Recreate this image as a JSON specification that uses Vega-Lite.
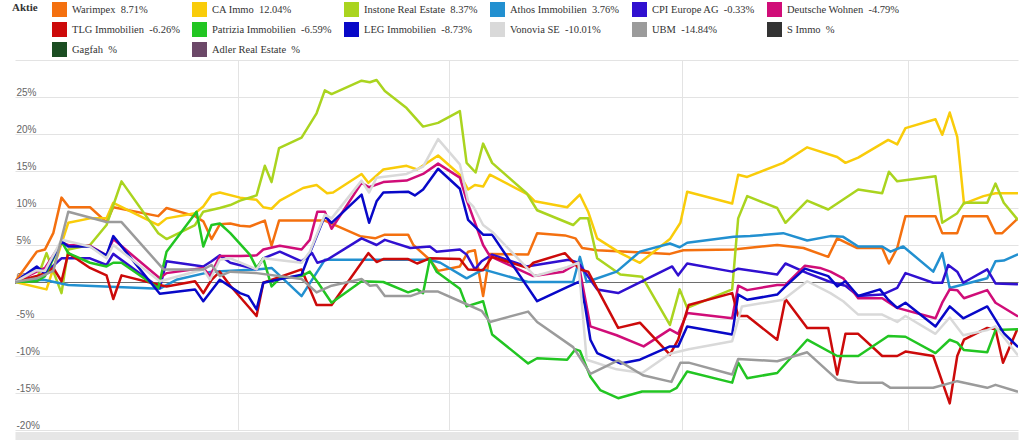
{
  "$schema": "https://vega.github.io/schema/vega-lite/v6.json",
  "width": 1003,
  "height": 370,
  "autosize": {"type": "none"},
  "padding": {"left": 15, "top": 60, "right": 6, "bottom": 10},
  "background": "white",
  "config": {"view": {"stroke": null}, "font": "Liberation Sans"},
  "datasets": {
    "namen": [
      {"k": "W", "aktie": "Warimpex\u00a0 8.71%"},
      {"k": "C", "aktie": "CA Immo\u00a0 12.04%"},
      {"k": "I", "aktie": "Instone Real Estate\u00a0 8.37%"},
      {"k": "A", "aktie": "Athos Immobilien\u00a0 3.76%"},
      {"k": "P", "aktie": "CPI Europe AG\u00a0 -0.33%"},
      {"k": "D", "aktie": "Deutsche Wohnen\u00a0 -4.79%"},
      {"k": "T", "aktie": "TLG Immobilien\u00a0 -6.26%"},
      {"k": "Z", "aktie": "Patrizia Immobilien\u00a0 -6.59%"},
      {"k": "L", "aktie": "LEG Immobilien\u00a0 -8.73%"},
      {"k": "V", "aktie": "Vonovia SE\u00a0 -10.01%"},
      {"k": "U", "aktie": "UBM\u00a0 -14.84%"}
    ]
  },
  "data": {"values": [
{"k":"W","tag":0,"wert":0},{"k":"W","tag":2.9,"wert":4.1},{"k":"W","tag":4.0,"wert":4.4},{"k":"W","tag":5.1,"wert":6.6},{"k":"W","tag":6.2,"wert":11.4},{"k":"W","tag":7.2,"wert":10.1},{"k":"W","tag":10.0,"wert":10.1},{"k":"W","tag":12.2,"wert":8.1},{"k":"W","tag":13.1,"wert":10.1},{"k":"W","tag":19.1,"wert":8.9},{"k":"W","tag":20.2,"wert":10.0},{"k":"W","tag":24.0,"wert":8.9},{"k":"W","tag":25.1,"wert":8.2},{"k":"W","tag":26.2,"wert":5.8},{"k":"W","tag":27.3,"wert":7.8},{"k":"W","tag":28.7,"wert":7.9},{"k":"W","tag":30.0,"wert":7.6},{"k":"W","tag":31.3,"wert":7.5},{"k":"W","tag":33.3,"wert":8.3},{"k":"W","tag":34.2,"wert":4.9},{"k":"W","tag":35.2,"wert":8.3},{"k":"W","tag":41.3,"wert":8.3},{"k":"W","tag":46.0,"wert":6.2},{"k":"W","tag":48.0,"wert":5.9},{"k":"W","tag":49.3,"wert":6.4},{"k":"W","tag":52.4,"wert":6.4},{"k":"W","tag":53.1,"wert":5.0},{"k":"W","tag":55.3,"wert":3.0},{"k":"W","tag":56.4,"wert":1.5},{"k":"W","tag":59.3,"wert":2.1},{"k":"W","tag":60.4,"wert":4.1},{"k":"W","tag":61.3,"wert":4.3},{"k":"W","tag":62.4,"wert":-1.9},{"k":"W","tag":63.3,"wert":3.8},{"k":"W","tag":68.4,"wert":3.7},{"k":"W","tag":69.6,"wert":6.6},{"k":"W","tag":73.3,"wert":6.3},{"k":"W","tag":74.7,"wert":5.9},{"k":"W","tag":75.6,"wert":4.6},{"k":"W","tag":77.6,"wert":4.3},{"k":"W","tag":83.6,"wert":4.0},{"k":"W","tag":87.3,"wert":3.8},{"k":"W","tag":89.1,"wert":4.3},{"k":"W","tag":95.8,"wert":4.4},{"k":"W","tag":101.6,"wert":5.0},{"k":"W","tag":105.1,"wert":4.6},{"k":"W","tag":108.4,"wert":3.4},{"k":"W","tag":109.6,"wert":5.9},{"k":"W","tag":112.2,"wert":4.6},{"k":"W","tag":115.6,"wert":4.6},{"k":"W","tag":116.5,"wert":2.5},{"k":"W","tag":117.6,"wert":4.6},{"k":"W","tag":118.7,"wert":8.9},{"k":"W","tag":122.7,"wert":8.9},{"k":"W","tag":123.6,"wert":6.6},{"k":"W","tag":125.6,"wert":6.6},{"k":"W","tag":126.4,"wert":8.9},{"k":"W","tag":129.6,"wert":8.9},{"k":"W","tag":130.7,"wert":6.6},{"k":"W","tag":131.6,"wert":6.6},{"k":"W","tag":133.6,"wert":8.5},
{"k":"C","tag":0,"wert":0},{"k":"C","tag":4.2,"wert":-1.0},{"k":"C","tag":7.1,"wert":8.0},{"k":"C","tag":10.0,"wert":8.6},{"k":"C","tag":12.2,"wert":8.6},{"k":"C","tag":13.1,"wert":10.7},{"k":"C","tag":19.1,"wert":7.7},{"k":"C","tag":20.2,"wert":8.6},{"k":"C","tag":24.0,"wert":9.3},{"k":"C","tag":25.1,"wert":10.2},{"k":"C","tag":26.2,"wert":11.8},{"k":"C","tag":27.3,"wert":12.1},{"k":"C","tag":30.0,"wert":11.4},{"k":"C","tag":32.2,"wert":11.1},{"k":"C","tag":33.1,"wert":10.1},{"k":"C","tag":34.2,"wert":9.9},{"k":"C","tag":35.3,"wert":11.0},{"k":"C","tag":38.4,"wert":12.7},{"k":"C","tag":40.2,"wert":13.1},{"k":"C","tag":41.6,"wert":12.0},{"k":"C","tag":42.4,"wert":12.1},{"k":"C","tag":46.2,"wert":14.6},{"k":"C","tag":47.1,"wert":13.4},{"k":"C","tag":49.1,"wert":15.2},{"k":"C","tag":52.2,"wert":15.7},{"k":"C","tag":53.6,"wert":15.2},{"k":"C","tag":56.4,"wert":17.1},{"k":"C","tag":59.3,"wert":14.5},{"k":"C","tag":60.4,"wert":12.5},{"k":"C","tag":61.3,"wert":13.1},{"k":"C","tag":62.4,"wert":12.9},{"k":"C","tag":63.3,"wert":14.5},{"k":"C","tag":68.4,"wert":11.8},{"k":"C","tag":69.3,"wert":10.9},{"k":"C","tag":73.6,"wert":10.1},{"k":"C","tag":75.3,"wert":11.8},{"k":"C","tag":76.4,"wert":9.5},{"k":"C","tag":77.6,"wert":5.9},{"k":"C","tag":80.7,"wert":3.9},{"k":"C","tag":83.3,"wert":2.6},{"k":"C","tag":87.3,"wert":5.8},{"k":"C","tag":88.7,"wert":8.0},{"k":"C","tag":89.6,"wert":12.2},{"k":"C","tag":95.6,"wert":10.6},{"k":"C","tag":96.4,"wert":14.5},{"k":"C","tag":97.6,"wert":14.2},{"k":"C","tag":102.4,"wert":16.1},{"k":"C","tag":105.6,"wert":18.2},{"k":"C","tag":109.6,"wert":16.9},{"k":"C","tag":110.7,"wert":16.1},{"k":"C","tag":112.4,"wert":16.8},{"k":"C","tag":116.4,"wert":19.2},{"k":"C","tag":117.6,"wert":18.6},{"k":"C","tag":118.7,"wert":20.8},{"k":"C","tag":122.7,"wert":22.0},{"k":"C","tag":123.6,"wert":19.9},{"k":"C","tag":124.6,"wert":22.9},{"k":"C","tag":125.6,"wert":19.6},{"k":"C","tag":126.5,"wert":10.6},{"k":"C","tag":129.1,"wert":11.6},{"k":"C","tag":130.7,"wert":12.0},{"k":"C","tag":133.6,"wert":12.0},
{"k":"I","tag":0,"wert":0},{"k":"I","tag":2.9,"wert":0.3},{"k":"I","tag":4.2,"wert":3.9},{"k":"I","tag":6.2,"wert":-1.5},{"k":"I","tag":7.1,"wert":4.4},{"k":"I","tag":10.0,"wert":5.0},{"k":"I","tag":12.2,"wert":7.7},{"k":"I","tag":14.2,"wert":13.6},{"k":"I","tag":19.1,"wert":6.6},{"k":"I","tag":20.2,"wert":5.8},{"k":"I","tag":24.0,"wert":7.7},{"k":"I","tag":25.1,"wert":9.5},{"k":"I","tag":27.3,"wert":10.0},{"k":"I","tag":28.7,"wert":10.4},{"k":"I","tag":30.0,"wert":11.0},{"k":"I","tag":32.2,"wert":11.7},{"k":"I","tag":33.3,"wert":15.7},{"k":"I","tag":34.2,"wert":13.5},{"k":"I","tag":35.2,"wert":18.1},{"k":"I","tag":38.2,"wert":19.5},{"k":"I","tag":40.2,"wert":22.8},{"k":"I","tag":41.3,"wert":25.9},{"k":"I","tag":42.2,"wert":25.4},{"k":"I","tag":46.2,"wert":27.2},{"k":"I","tag":47.3,"wert":27.0},{"k":"I","tag":48.2,"wert":27.3},{"k":"I","tag":49.3,"wert":25.8},{"k":"I","tag":52.2,"wert":23.5},{"k":"I","tag":54.4,"wert":21.0},{"k":"I","tag":56.4,"wert":21.5},{"k":"I","tag":59.3,"wert":23.1},{"k":"I","tag":60.2,"wert":16.1},{"k":"I","tag":61.4,"wert":14.8},{"k":"I","tag":62.4,"wert":18.7},{"k":"I","tag":63.6,"wert":16.1},{"k":"I","tag":68.2,"wert":12.0},{"k":"I","tag":69.6,"wert":9.7},{"k":"I","tag":74.4,"wert":7.7},{"k":"I","tag":75.3,"wert":8.6},{"k":"I","tag":76.4,"wert":8.6},{"k":"I","tag":77.6,"wert":3.2},{"k":"I","tag":80.7,"wert":1.0},{"k":"I","tag":83.6,"wert":0.7},{"k":"I","tag":87.3,"wert":-5.8},{"k":"I","tag":88.6,"wert":-1.0},{"k":"I","tag":89.6,"wert":-3.5},{"k":"I","tag":95.6,"wert":-1.0},{"k":"I","tag":96.4,"wert":8.6},{"k":"I","tag":97.6,"wert":11.6},{"k":"I","tag":101.6,"wert":10.0},{"k":"I","tag":102.7,"wert":8.0},{"k":"I","tag":105.6,"wert":11.0},{"k":"I","tag":108.4,"wert":9.8},{"k":"I","tag":112.4,"wert":12.5},{"k":"I","tag":115.6,"wert":12.0},{"k":"I","tag":116.5,"wert":14.9},{"k":"I","tag":117.6,"wert":13.6},{"k":"I","tag":122.7,"wert":14.3},{"k":"I","tag":123.6,"wert":8.0},{"k":"I","tag":125.6,"wert":9.3},{"k":"I","tag":126.5,"wert":10.7},{"k":"I","tag":129.6,"wert":10.7},{"k":"I","tag":130.7,"wert":13.3},{"k":"I","tag":131.8,"wert":10.7},{"k":"I","tag":133.6,"wert":8.5},
{"k":"A","tag":0,"wert":0},{"k":"A","tag":3.8,"wert":0.3},{"k":"A","tag":7.1,"wert":-0.4},{"k":"A","tag":19.3,"wert":-0.9},{"k":"A","tag":21.5,"wert":0.3},{"k":"A","tag":26.2,"wert":1.4},{"k":"A","tag":32.2,"wert":1.7},{"k":"A","tag":34.2,"wert":1.9},{"k":"A","tag":38.2,"wert":-1.9},{"k":"A","tag":41.3,"wert":3.0},{"k":"A","tag":55.3,"wert":3.0},{"k":"A","tag":56.7,"wert":2.6},{"k":"A","tag":60.2,"wert":0.5},{"k":"A","tag":62.4,"wert":1.7},{"k":"A","tag":68.4,"wert":0.0},{"k":"A","tag":74.4,"wert":0.0},{"k":"A","tag":75.3,"wert":3.4},{"k":"A","tag":76.2,"wert":0.0},{"k":"A","tag":80.2,"wert":1.4},{"k":"A","tag":83.3,"wert":4.1},{"k":"A","tag":87.3,"wert":5.2},{"k":"A","tag":88.6,"wert":4.7},{"k":"A","tag":89.6,"wert":5.3},{"k":"A","tag":95.8,"wert":6.1},{"k":"A","tag":98.0,"wert":6.2},{"k":"A","tag":102.4,"wert":6.6},{"k":"A","tag":105.6,"wert":5.6},{"k":"A","tag":108.7,"wert":6.2},{"k":"A","tag":110.4,"wert":6.1},{"k":"A","tag":112.4,"wert":4.8},{"k":"A","tag":115.6,"wert":4.8},{"k":"A","tag":116.7,"wert":4.1},{"k":"A","tag":118.4,"wert":4.8},{"k":"A","tag":122.4,"wert":1.4},{"k":"A","tag":123.6,"wert":3.9},{"k":"A","tag":124.6,"wert":-0.8},{"k":"A","tag":129.6,"wert":0.5},{"k":"A","tag":130.7,"wert":2.8},{"k":"A","tag":131.8,"wert":2.9},{"k":"A","tag":133.6,"wert":3.7},
{"k":"P","tag":0,"wert":0},{"k":"P","tag":2.9,"wert":1.9},{"k":"P","tag":4.0,"wert":1.2},{"k":"P","tag":6.2,"wert":3.2},{"k":"P","tag":10.0,"wert":3.2},{"k":"P","tag":12.2,"wert":2.3},{"k":"P","tag":13.1,"wert":3.8},{"k":"P","tag":19.3,"wert":-0.8},{"k":"P","tag":20.2,"wert":2.8},{"k":"P","tag":25.1,"wert":2.1},{"k":"P","tag":26.2,"wert":2.8},{"k":"P","tag":27.3,"wert":3.6},{"k":"P","tag":28.7,"wert":2.6},{"k":"P","tag":32.2,"wert":1.7},{"k":"P","tag":33.1,"wert":3.2},{"k":"P","tag":35.3,"wert":4.1},{"k":"P","tag":38.2,"wert":2.8},{"k":"P","tag":39.6,"wert":3.9},{"k":"P","tag":40.3,"wert":2.6},{"k":"P","tag":41.6,"wert":3.0},{"k":"P","tag":46.2,"wert":5.9},{"k":"P","tag":48.2,"wert":5.0},{"k":"P","tag":49.3,"wert":5.7},{"k":"P","tag":52.7,"wert":4.6},{"k":"P","tag":55.3,"wert":4.8},{"k":"P","tag":56.2,"wert":4.1},{"k":"P","tag":59.3,"wert":4.4},{"k":"P","tag":60.2,"wert":3.7},{"k":"P","tag":61.3,"wert":1.7},{"k":"P","tag":62.2,"wert":2.8},{"k":"P","tag":63.6,"wert":3.7},{"k":"P","tag":68.2,"wert":2.1},{"k":"P","tag":73.8,"wert":3.0},{"k":"P","tag":75.1,"wert":2.6},{"k":"P","tag":77.6,"wert":-1.0},{"k":"P","tag":80.4,"wert":-1.5},{"k":"P","tag":87.6,"wert":2.1},{"k":"P","tag":88.4,"wert":0.9},{"k":"P","tag":89.6,"wert":2.5},{"k":"P","tag":95.6,"wert":1.4},{"k":"P","tag":96.4,"wert":1.8},{"k":"P","tag":101.6,"wert":1.0},{"k":"P","tag":102.7,"wert":2.5},{"k":"P","tag":105.6,"wert":1.2},{"k":"P","tag":108.7,"wert":0.0},{"k":"P","tag":110.7,"wert":-0.5},{"k":"P","tag":112.4,"wert":-1.9},{"k":"P","tag":115.6,"wert":-1.7},{"k":"P","tag":117.6,"wert":-0.8},{"k":"P","tag":118.7,"wert":1.2},{"k":"P","tag":122.4,"wert":-0.1},{"k":"P","tag":123.6,"wert":-0.1},{"k":"P","tag":124.4,"wert":2.3},{"k":"P","tag":125.6,"wert":1.4},{"k":"P","tag":126.4,"wert":-0.1},{"k":"P","tag":129.6,"wert":1.7},{"k":"P","tag":130.7,"wert":-0.2},{"k":"P","tag":133.6,"wert":-0.3},
{"k":"D","tag":0,"wert":0},{"k":"D","tag":2.9,"wert":1.4},{"k":"D","tag":4.0,"wert":1.9},{"k":"D","tag":6.2,"wert":5.3},{"k":"D","tag":7.1,"wert":5.0},{"k":"D","tag":10.0,"wert":4.9},{"k":"D","tag":12.2,"wert":3.6},{"k":"D","tag":13.1,"wert":5.8},{"k":"D","tag":19.3,"wert":0.5},{"k":"D","tag":20.2,"wert":1.2},{"k":"D","tag":25.1,"wert":1.9},{"k":"D","tag":26.0,"wert":0.8},{"k":"D","tag":27.3,"wert":3.5},{"k":"D","tag":30.0,"wert":3.5},{"k":"D","tag":32.2,"wert":3.6},{"k":"D","tag":33.1,"wert":4.4},{"k":"D","tag":35.3,"wert":4.9},{"k":"D","tag":38.2,"wert":4.4},{"k":"D","tag":39.3,"wert":5.7},{"k":"D","tag":40.3,"wert":9.5},{"k":"D","tag":41.3,"wert":9.5},{"k":"D","tag":42.2,"wert":7.2},{"k":"D","tag":46.2,"wert":13.4},{"k":"D","tag":47.2,"wert":12.8},{"k":"D","tag":49.1,"wert":13.5},{"k":"D","tag":52.2,"wert":13.7},{"k":"D","tag":54.4,"wert":14.6},{"k":"D","tag":56.4,"wert":16.0},{"k":"D","tag":59.3,"wert":14.1},{"k":"D","tag":60.2,"wert":11.1},{"k":"D","tag":62.4,"wert":5.0},{"k":"D","tag":63.3,"wert":3.5},{"k":"D","tag":68.2,"wert":1.2},{"k":"D","tag":69.1,"wert":0.8},{"k":"D","tag":73.1,"wert":1.4},{"k":"D","tag":75.1,"wert":2.6},{"k":"D","tag":76.7,"wert":-6.0},{"k":"D","tag":80.2,"wert":-7.2},{"k":"D","tag":83.8,"wert":-8.7},{"k":"D","tag":87.3,"wert":-6.4},{"k":"D","tag":88.4,"wert":-7.0},{"k":"D","tag":89.6,"wert":-4.2},{"k":"D","tag":95.6,"wert":-4.9},{"k":"D","tag":96.4,"wert":-0.5},{"k":"D","tag":97.6,"wert":-1.1},{"k":"D","tag":101.6,"wert":-0.4},{"k":"D","tag":102.7,"wert":-0.4},{"k":"D","tag":105.3,"wert":2.2},{"k":"D","tag":107.3,"wert":1.9},{"k":"D","tag":108.7,"wert":1.4},{"k":"D","tag":110.4,"wert":0.5},{"k":"D","tag":112.4,"wert":-2.2},{"k":"D","tag":115.6,"wert":-2.2},{"k":"D","tag":117.6,"wert":-3.5},{"k":"D","tag":122.7,"wert":-4.9},{"k":"D","tag":123.6,"wert":-2.8},{"k":"D","tag":124.6,"wert":-1.0},{"k":"D","tag":125.6,"wert":-1.1},{"k":"D","tag":126.5,"wert":-2.2},{"k":"D","tag":129.6,"wert":-1.1},{"k":"D","tag":130.7,"wert":-2.8},{"k":"D","tag":133.6,"wert":-4.6},
{"k":"T","tag":0,"wert":0},{"k":"T","tag":2.9,"wert":0.8},{"k":"T","tag":4.0,"wert":1.2},{"k":"T","tag":5.1,"wert":1.9},{"k":"T","tag":6.2,"wert":0.1},{"k":"T","tag":7.1,"wert":3.9},{"k":"T","tag":10.0,"wert":1.9},{"k":"T","tag":12.2,"wert":0.9},{"k":"T","tag":13.1,"wert":-2.3},{"k":"T","tag":14.2,"wert":0.9},{"k":"T","tag":19.3,"wert":-0.4},{"k":"T","tag":20.2,"wert":-0.6},{"k":"T","tag":24.0,"wert":0.1},{"k":"T","tag":25.1,"wert":-1.5},{"k":"T","tag":26.2,"wert":0.3},{"k":"T","tag":27.3,"wert":1.4},{"k":"T","tag":28.7,"wert":-0.5},{"k":"T","tag":32.2,"wert":-4.6},{"k":"T","tag":33.1,"wert":-0.1},{"k":"T","tag":38.2,"wert":1.7},{"k":"T","tag":40.2,"wert":-3.1},{"k":"T","tag":42.2,"wert":-3.1},{"k":"T","tag":47.1,"wert":3.9},{"k":"T","tag":48.2,"wert":2.7},{"k":"T","tag":49.1,"wert":3.1},{"k":"T","tag":52.4,"wert":3.1},{"k":"T","tag":53.6,"wert":2.5},{"k":"T","tag":55.3,"wert":3.2},{"k":"T","tag":59.3,"wert":3.1},{"k":"T","tag":60.4,"wert":1.7},{"k":"T","tag":62.4,"wert":1.6},{"k":"T","tag":63.6,"wert":3.4},{"k":"T","tag":68.4,"wert":1.9},{"k":"T","tag":69.1,"wert":2.6},{"k":"T","tag":73.3,"wert":3.9},{"k":"T","tag":75.3,"wert":1.7},{"k":"T","tag":76.4,"wert":1.4},{"k":"T","tag":80.4,"wert":-6.2},{"k":"T","tag":83.3,"wert":-5.5},{"k":"T","tag":87.3,"wert":-9.8},{"k":"T","tag":88.4,"wert":-7.8},{"k":"T","tag":89.8,"wert":-3.1},{"k":"T","tag":95.6,"wert":-1.5},{"k":"T","tag":96.4,"wert":-4.6},{"k":"T","tag":97.6,"wert":-4.6},{"k":"T","tag":101.6,"wert":-7.8},{"k":"T","tag":102.7,"wert":-2.3},{"k":"T","tag":105.6,"wert":-6.2},{"k":"T","tag":108.4,"wert":-6.2},{"k":"T","tag":109.6,"wert":-12.5},{"k":"T","tag":110.7,"wert":-7.0},{"k":"T","tag":112.4,"wert":-7.0},{"k":"T","tag":115.6,"wert":-10.0},{"k":"T","tag":117.6,"wert":-10.0},{"k":"T","tag":118.7,"wert":-9.4},{"k":"T","tag":122.4,"wert":-10.0},{"k":"T","tag":124.6,"wert":-16.4},{"k":"T","tag":125.6,"wert":-10.0},{"k":"T","tag":126.5,"wert":-7.8},{"k":"T","tag":129.6,"wert":-6.2},{"k":"T","tag":130.7,"wert":-6.4},{"k":"T","tag":131.7,"wert":-10.9},{"k":"T","tag":133.6,"wert":-6.4},
{"k":"Z","tag":0,"wert":0},{"k":"Z","tag":2.9,"wert":0.1},{"k":"Z","tag":4.0,"wert":0.8},{"k":"Z","tag":6.2,"wert":5.5},{"k":"Z","tag":7.1,"wert":3.9},{"k":"Z","tag":10.0,"wert":2.6},{"k":"Z","tag":12.2,"wert":2.1},{"k":"Z","tag":13.1,"wert":2.6},{"k":"Z","tag":14.2,"wert":2.6},{"k":"Z","tag":19.1,"wert":-0.8},{"k":"Z","tag":20.2,"wert":4.1},{"k":"Z","tag":24.2,"wert":9.5},{"k":"Z","tag":25.1,"wert":4.8},{"k":"Z","tag":26.2,"wert":7.7},{"k":"Z","tag":27.3,"wert":7.9},{"k":"Z","tag":28.7,"wert":6.6},{"k":"Z","tag":31.3,"wert":3.7},{"k":"Z","tag":32.2,"wert":1.9},{"k":"Z","tag":33.1,"wert":3.2},{"k":"Z","tag":34.2,"wert":-0.6},{"k":"Z","tag":35.3,"wert":0.5},{"k":"Z","tag":38.2,"wert":0.8},{"k":"Z","tag":39.3,"wert":1.4},{"k":"Z","tag":40.4,"wert":-0.1},{"k":"Z","tag":42.2,"wert":-2.8},{"k":"Z","tag":46.2,"wert":0.1},{"k":"Z","tag":49.1,"wert":0.0},{"k":"Z","tag":52.4,"wert":-1.4},{"k":"Z","tag":53.6,"wert":-1.0},{"k":"Z","tag":54.4,"wert":-1.5},{"k":"Z","tag":55.3,"wert":3.1},{"k":"Z","tag":56.2,"wert":1.4},{"k":"Z","tag":59.3,"wert":-0.9},{"k":"Z","tag":60.2,"wert":-3.3},{"k":"Z","tag":62.4,"wert":-2.6},{"k":"Z","tag":63.6,"wert":-7.1},{"k":"Z","tag":68.4,"wert":-11.0},{"k":"Z","tag":69.6,"wert":-10.3},{"k":"Z","tag":73.6,"wert":-10.5},{"k":"Z","tag":74.7,"wert":-9.1},{"k":"Z","tag":75.3,"wert":-9.3},{"k":"Z","tag":76.7,"wert":-12.8},{"k":"Z","tag":78.0,"wert":-14.6},{"k":"Z","tag":80.4,"wert":-15.7},{"k":"Z","tag":83.6,"wert":-14.8},{"k":"Z","tag":87.3,"wert":-14.8},{"k":"Z","tag":88.2,"wert":-14.3},{"k":"Z","tag":89.6,"wert":-12.1},{"k":"Z","tag":95.6,"wert":-13.6},{"k":"Z","tag":96.4,"wert":-10.9},{"k":"Z","tag":97.6,"wert":-13.0},{"k":"Z","tag":101.6,"wert":-12.3},{"k":"Z","tag":105.6,"wert":-7.8},{"k":"Z","tag":109.6,"wert":-10.0},{"k":"Z","tag":112.4,"wert":-10.0},{"k":"Z","tag":116.4,"wert":-7.3},{"k":"Z","tag":118.7,"wert":-7.4},{"k":"Z","tag":122.7,"wert":-9.6},{"k":"Z","tag":124.6,"wert":-7.8},{"k":"Z","tag":125.6,"wert":-8.2},{"k":"Z","tag":126.5,"wert":-9.2},{"k":"Z","tag":129.6,"wert":-9.5},{"k":"Z","tag":130.7,"wert":-6.5},{"k":"Z","tag":133.6,"wert":-6.4},
{"k":"L","tag":0,"wert":0},{"k":"L","tag":2.9,"wert":2.1},{"k":"L","tag":4.0,"wert":1.2},{"k":"L","tag":6.2,"wert":5.5},{"k":"L","tag":7.1,"wert":4.8},{"k":"L","tag":10.0,"wert":4.8},{"k":"L","tag":12.2,"wert":3.6},{"k":"L","tag":13.1,"wert":6.2},{"k":"L","tag":19.3,"wert":-1.6},{"k":"L","tag":24.0,"wert":-1.0},{"k":"L","tag":25.1,"wert":-2.6},{"k":"L","tag":27.3,"wert":0.3},{"k":"L","tag":30.0,"wert":-1.5},{"k":"L","tag":31.1,"wert":-1.9},{"k":"L","tag":32.2,"wert":-3.7},{"k":"L","tag":33.1,"wert":-0.1},{"k":"L","tag":38.2,"wert":1.0},{"k":"L","tag":39.3,"wert":3.9},{"k":"L","tag":41.3,"wert":8.9},{"k":"L","tag":42.2,"wert":8.0},{"k":"L","tag":46.2,"wert":11.8},{"k":"L","tag":47.2,"wert":8.0},{"k":"L","tag":48.2,"wert":10.9},{"k":"L","tag":49.1,"wert":12.1},{"k":"L","tag":52.4,"wert":12.2},{"k":"L","tag":53.3,"wert":11.7},{"k":"L","tag":54.4,"wert":12.5},{"k":"L","tag":56.4,"wert":15.3},{"k":"L","tag":59.3,"wert":12.6},{"k":"L","tag":60.4,"wert":8.4},{"k":"L","tag":62.4,"wert":6.4},{"k":"L","tag":63.6,"wert":6.4},{"k":"L","tag":69.6,"wert":-2.6},{"k":"L","tag":73.6,"wert":-0.7},{"k":"L","tag":75.3,"wert":0.1},{"k":"L","tag":76.0,"wert":-3.3},{"k":"L","tag":76.7,"wert":-7.8},{"k":"L","tag":77.6,"wert":-9.6},{"k":"L","tag":80.7,"wert":-11.0},{"k":"L","tag":83.3,"wert":-10.5},{"k":"L","tag":87.3,"wert":-8.7},{"k":"L","tag":88.4,"wert":-8.7},{"k":"L","tag":89.6,"wert":-6.0},{"k":"L","tag":95.6,"wert":-7.1},{"k":"L","tag":96.4,"wert":-1.7},{"k":"L","tag":97.6,"wert":-2.4},{"k":"L","tag":101.6,"wert":-1.7},{"k":"L","tag":102.7,"wert":-0.6},{"k":"L","tag":105.3,"wert":1.8},{"k":"L","tag":108.4,"wert":0.8},{"k":"L","tag":109.6,"wert":-0.6},{"k":"L","tag":110.7,"wert":0.1},{"k":"L","tag":112.4,"wert":-1.9},{"k":"L","tag":115.3,"wert":-1.0},{"k":"L","tag":116.4,"wert":-2.4},{"k":"L","tag":117.6,"wert":-3.5},{"k":"L","tag":118.7,"wert":-2.8},{"k":"L","tag":122.7,"wert":-6.0},{"k":"L","tag":124.6,"wert":-3.3},{"k":"L","tag":126.4,"wert":-4.9},{"k":"L","tag":129.6,"wert":-3.3},{"k":"L","tag":131.8,"wert":-6.9},{"k":"L","tag":133.6,"wert":-8.7},
{"k":"V","tag":0,"wert":0},{"k":"V","tag":2.9,"wert":1.6},{"k":"V","tag":4.0,"wert":1.5},{"k":"V","tag":6.2,"wert":5.7},{"k":"V","tag":10.0,"wert":4.8},{"k":"V","tag":12.2,"wert":3.2},{"k":"V","tag":13.1,"wert":5.0},{"k":"V","tag":19.3,"wert":0.1},{"k":"V","tag":25.1,"wert":1.7},{"k":"V","tag":26.0,"wert":0.3},{"k":"V","tag":27.3,"wert":3.0},{"k":"V","tag":28.7,"wert":3.2},{"k":"V","tag":32.2,"wert":1.7},{"k":"V","tag":33.1,"wert":3.2},{"k":"V","tag":38.2,"wert":2.6},{"k":"V","tag":39.3,"wert":4.1},{"k":"V","tag":41.3,"wert":9.1},{"k":"V","tag":42.2,"wert":8.6},{"k":"V","tag":46.2,"wert":13.7},{"k":"V","tag":47.2,"wert":12.1},{"k":"V","tag":48.2,"wert":14.1},{"k":"V","tag":52.2,"wert":14.6},{"k":"V","tag":54.4,"wert":15.6},{"k":"V","tag":56.4,"wert":19.3},{"k":"V","tag":59.3,"wert":15.9},{"k":"V","tag":60.4,"wert":10.9},{"k":"V","tag":61.1,"wert":10.2},{"k":"V","tag":62.4,"wert":7.7},{"k":"V","tag":63.6,"wert":6.8},{"k":"V","tag":69.3,"wert":0.8},{"k":"V","tag":73.6,"wert":2.0},{"k":"V","tag":75.1,"wert":2.6},{"k":"V","tag":76.2,"wert":-10.5},{"k":"V","tag":80.2,"wert":-11.8},{"k":"V","tag":83.6,"wert":-12.3},{"k":"V","tag":87.3,"wert":-9.7},{"k":"V","tag":89.8,"wert":-9.1},{"k":"V","tag":95.6,"wert":-8.0},{"k":"V","tag":96.9,"wert":-3.3},{"k":"V","tag":102.4,"wert":-2.4},{"k":"V","tag":105.6,"wert":0.1},{"k":"V","tag":108.7,"wert":-1.5},{"k":"V","tag":110.4,"wert":-2.6},{"k":"V","tag":112.4,"wert":-4.4},{"k":"V","tag":115.6,"wert":-4.4},{"k":"V","tag":117.6,"wert":-5.4},{"k":"V","tag":118.7,"wert":-4.6},{"k":"V","tag":122.7,"wert":-7.0},{"k":"V","tag":124.6,"wert":-4.8},{"k":"V","tag":126.4,"wert":-7.2},{"k":"V","tag":129.6,"wert":-6.5},{"k":"V","tag":130.7,"wert":-6.0},{"k":"V","tag":133.6,"wert":-9.8},
{"k":"U","tag":0,"wert":0},{"k":"U","tag":2.9,"wert":0.5},{"k":"U","tag":4.0,"wert":1.0},{"k":"U","tag":5.1,"wert":1.5},{"k":"U","tag":7.1,"wert":9.5},{"k":"U","tag":12.2,"wert":8.1},{"k":"U","tag":14.2,"wert":8.1},{"k":"U","tag":19.8,"wert":1.7},{"k":"U","tag":25.1,"wert":1.7},{"k":"U","tag":26.2,"wert":2.3},{"k":"U","tag":27.3,"wert":0.8},{"k":"U","tag":28.7,"wert":1.4},{"k":"U","tag":32.2,"wert":1.2},{"k":"U","tag":38.2,"wert":0.4},{"k":"U","tag":40.2,"wert":-1.4},{"k":"U","tag":42.2,"wert":-0.5},{"k":"U","tag":46.2,"wert":0.4},{"k":"U","tag":47.3,"wert":-0.5},{"k":"U","tag":48.2,"wert":-0.4},{"k":"U","tag":49.3,"wert":-1.9},{"k":"U","tag":52.7,"wert":-1.9},{"k":"U","tag":54.4,"wert":-1.3},{"k":"U","tag":56.4,"wert":-1.3},{"k":"U","tag":59.3,"wert":-2.6},{"k":"U","tag":62.2,"wert":-3.9},{"k":"U","tag":63.3,"wert":-5.4},{"k":"U","tag":68.4,"wert":-4.0},{"k":"U","tag":69.6,"wert":-5.4},{"k":"U","tag":74.4,"wert":-8.8},{"k":"U","tag":76.7,"wert":-12.4},{"k":"U","tag":80.4,"wert":-10.6},{"k":"U","tag":83.7,"wert":-12.6},{"k":"U","tag":87.5,"wert":-13.5},{"k":"U","tag":88.7,"wert":-10.9},{"k":"U","tag":89.8,"wert":-10.9},{"k":"U","tag":95.6,"wert":-12.5},{"k":"U","tag":96.4,"wert":-10.4},{"k":"U","tag":101.6,"wert":-10.7},{"k":"U","tag":105.6,"wert":-9.5},{"k":"U","tag":109.6,"wert":-13.2},{"k":"U","tag":112.4,"wert":-13.6},{"k":"U","tag":115.6,"wert":-13.6},{"k":"U","tag":116.7,"wert":-14.3},{"k":"U","tag":122.4,"wert":-14.3},{"k":"U","tag":125.6,"wert":-13.4},{"k":"U","tag":129.6,"wert":-14.3},{"k":"U","tag":130.7,"wert":-13.9},{"k":"U","tag":133.6,"wert":-14.8}
  ]},
  "transform": [
    {"lookup": "k", "from": {"data": {"name": "namen"}, "key": "k", "fields": ["aktie"]}}
  ],
  "mark": {"type": "line", "strokeWidth": 2.5, "strokeJoin": "round", "strokeCap": "round", "clip": true},
  "encoding": {
    "x": {
      "field": "tag", "type": "quantitative",
      "scale": {"domain": [0, 133.7], "nice": false, "zero": false},
      "axis": {
        "title": null, "labels": false, "ticks": false, "tickSize": 0,
        "domain": true, "domainColor": "#e6e6e6", "domainWidth": 9, "offset": 6,
        "grid": true, "values": [29.7, 57.9, 88.9, 119.1],
        "gridColor": "#e3e3e3", "gridWidth": 1
      }
    },
    "y": {
      "field": "wert", "type": "quantitative",
      "scale": {"domain": [-20, 30], "nice": false},
      "axis": {
        "title": null, "orient": "left",
        "values": [-20, -15, -10, -5, 0, 5, 10, 15, 20, 25, 30],
        "labelExpr": "datum.value == 30 ? '' : datum.value + '%'",
        "labelAlign": "left", "labelPadding": -1, "ticks": false, "tickSize": 0,
        "labelBaseline": "alphabetic", "labelOffset": -1.5,
        "labelColor": "#666666", "labelFontSize": 10, "labelFont": "Liberation Sans",
        "domain": false, "grid": true,
        "gridColor": {"condition": {"test": "datum.value === 0", "value": "#6e6e6e"}, "value": "#e3e3e3"},
        "gridWidth": 1
      }
    },
    "color": {
      "field": "aktie", "type": "nominal",
      "scale": {
        "domain": ["Warimpex\u00a0 8.71%", "CA Immo\u00a0 12.04%", "Instone Real Estate\u00a0 8.37%", "Athos Immobilien\u00a0 3.76%", "CPI Europe AG\u00a0 -0.33%", "Deutsche Wohnen\u00a0 -4.79%", "TLG Immobilien\u00a0 -6.26%", "Patrizia Immobilien\u00a0 -6.59%", "LEG Immobilien\u00a0 -8.73%", "Vonovia SE\u00a0 -10.01%", "UBM\u00a0 -14.84%", "S Immo\u00a0 %", "Gagfah\u00a0 %", "Adler Real Estate\u00a0 %"],
        "range": ["#f4700f", "#f9cc0a", "#aad41f", "#2290d0", "#3010d0", "#d00d78", "#cc0a0a", "#22c522", "#0808c8", "#d9d9d9", "#9b9b9b", "#333333", "#1b4d22", "#6c4868"]
      },
      "legend": {
        "orient": "none", "legendX": -3, "legendY": -58,
        "direction": "horizontal", "columns": 6,
        "title": "Aktie", "titleOrient": "left", "titleAnchor": "start",
        "titleFont": "Liberation Serif", "titleFontSize": 11, "titleFontWeight": "bold", "titleColor": "#333333",
        "titlePadding": 14, "titleBaseline": "top",
        "labelFont": "Liberation Serif", "labelFontSize": 10.5, "labelColor": "#333333", "labelLimit": 300,
        "labelOffset": 5,
        "symbolType": "square", "symbolSize": 225, "symbolStrokeWidth": 0,
        "rowPadding": 5, "columnPadding": 12, "padding": 0,
        "encode": {"symbols": {"update": {"fill": {"scale": "color", "field": "value"}, "opacity": {"value": 1}}}}
      }
    }
  }
}
